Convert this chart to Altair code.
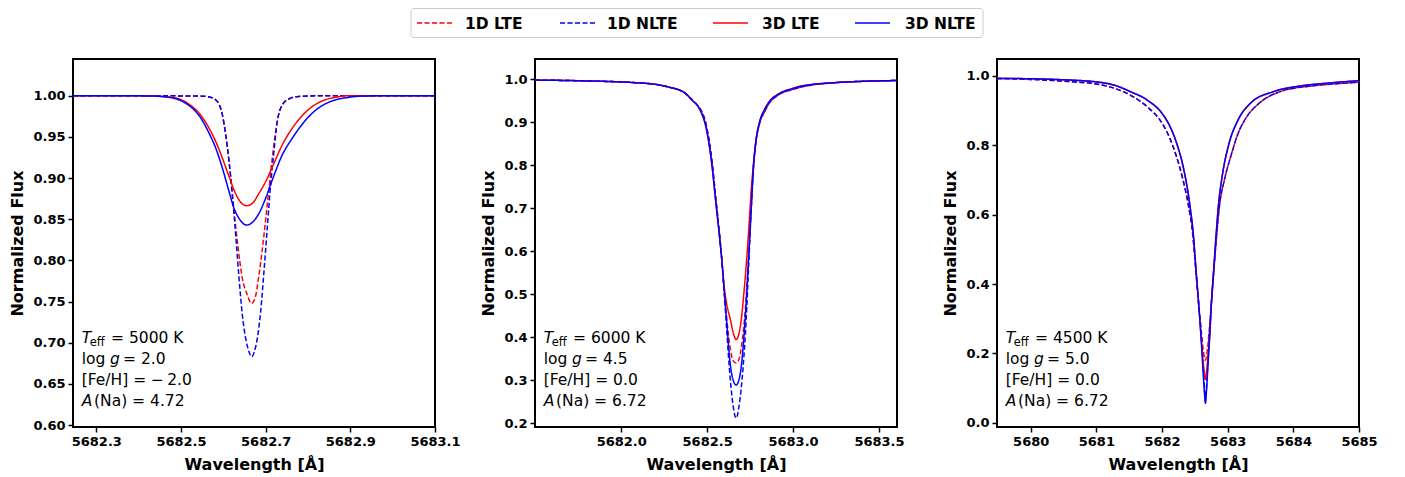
import altair as alt
import pandas as pd

SERIES = ["1D LTE", "1D NLTE", "3D LTE", "3D NLTE"]
COLORS = ["#ff0000", "#0000ff", "#ff0000", "#0000ff"]
DASHES = [[5, 2.5], [5, 2.5], [1, 0], [1, 0]]
IS_DASHED = [True, True, False, False]

# ---------------- Panel 1 (Teff 5000, logg 2.0, [Fe/H] -2.0) ----------------
p1_1d_lte_wl = [5682.245, 5682.40, 5682.550, 5682.567, 5682.5823, 5682.5901, 5682.5980, 5682.6058,
                5682.6137, 5682.6215, 5682.6333, 5682.6450, 5682.6568, 5682.6662, 5682.6748, 5682.6842,
                5682.6960, 5682.7062, 5682.7156, 5682.7274, 5682.7391, 5682.7548, 5682.7784, 5682.85, 5683.1]
p1_1d_lte_fx = [1.0, 1.0, 0.9995, 0.9985, 0.9948, 0.9895, 0.9765, 0.9522,
                0.9198, 0.8793, 0.8226, 0.7781, 0.7578, 0.7477, 0.7538, 0.7821,
                0.8307, 0.8793, 0.9239, 0.9684, 0.9887, 0.9960, 0.9992, 1.0, 1.0]
p1_1d_nlte_wl = [5682.245, 5682.40, 5682.550, 5682.567, 5682.5823, 5682.5901, 5682.5980, 5682.6058,
                 5682.6137, 5682.6215, 5682.6293, 5682.6372, 5682.6450, 5682.6529, 5682.6607, 5682.6670,
                 5682.6733, 5682.6803, 5682.6882, 5682.6960, 5682.7038, 5682.7117, 5682.7195, 5682.7274,
                 5682.7391, 5682.7548, 5682.7784, 5682.85, 5683.1]
p1_1d_nlte_fx = [1.0, 1.0, 0.9995, 0.9985, 0.9948, 0.9895, 0.9765, 0.9522,
                 0.9198, 0.8793, 0.8307, 0.7781, 0.7335, 0.7052, 0.6890, 0.6829,
                 0.6890, 0.7052, 0.7376, 0.7862, 0.8388, 0.8915, 0.9320, 0.9684,
                 0.9887, 0.9960, 0.9992, 1.0, 1.0]
p1_3d_lte_wl = [5682.245, 5682.35, 5682.4254, 5682.4725, 5682.4960, 5682.5195, 5682.5431, 5682.5666,
                5682.5823, 5682.5980, 5682.6137, 5682.6254, 5682.6372, 5682.6552, 5682.6685, 5682.6842,
                5682.6999, 5682.7195, 5682.7391, 5682.7627, 5682.7862, 5682.8097, 5682.8333, 5682.8646,
                5682.8960, 5682.95, 5683.1]
p1_3d_lte_fx = [1.0, 1.0, 0.9997, 0.9984, 0.9960, 0.9895, 0.9786, 0.9604,
                0.9441, 0.9239, 0.9016, 0.8854, 0.8733, 0.8664, 0.8692, 0.8814,
                0.8955, 0.9178, 0.9401, 0.9604, 0.9757, 0.9867, 0.9936, 0.9980,
                1.0, 1.0, 1.0]
p1_3d_nlte_wl = [5682.245, 5682.35, 5682.4254, 5682.4725, 5682.4960, 5682.5195, 5682.5431, 5682.5666,
                 5682.5823, 5682.5980, 5682.6137, 5682.6254, 5682.6372, 5682.6552, 5682.6685, 5682.6842,
                 5682.6999, 5682.7156, 5682.7391, 5682.7627, 5682.7862, 5682.8097, 5682.8333, 5682.8568,
                 5682.8960, 5682.9352, 5683.0, 5683.1]
p1_3d_nlte_fx = [1.0, 1.0, 0.9997, 0.9980, 0.9948, 0.9879, 0.9757, 0.9543,
                 0.9361, 0.9118, 0.8834, 0.8631, 0.8510, 0.8429, 0.8461, 0.8571,
                 0.8753, 0.8976, 0.9279, 0.9482, 0.9652, 0.9786, 0.9879, 0.9936,
                 0.9980, 0.9997, 1.0, 1.0]

# ---------------- Panel 2 (Teff 6000, logg 4.5, [Fe/H] 0.0) ----------------
p2_1d_lte_wl = [5681.498, 5681.8, 5682.08, 5682.20, 5682.273, 5682.37, 5682.415, 5682.445, 5682.471,
                5682.485, 5682.507, 5682.528, 5682.549, 5682.568, 5682.583, 5682.600, 5682.615, 5682.636,
                5682.652, 5682.669, 5682.686, 5682.702, 5682.722, 5682.740, 5682.755, 5682.770, 5682.782,
                5682.805, 5682.835, 5682.862, 5682.913, 5682.994, 5683.049, 5683.243, 5683.40, 5683.605]
p2_1d_lte_fx = [0.998, 0.996, 0.992, 0.988, 0.982, 0.968, 0.951, 0.939, 0.922,
                0.908, 0.868, 0.810, 0.728, 0.655, 0.592, 0.505, 0.440, 0.370,
                0.345, 0.340, 0.350, 0.386, 0.464, 0.580, 0.690, 0.797, 0.848,
                0.897, 0.925, 0.945, 0.963, 0.976, 0.982, 0.992, 0.995, 0.997]
p2_1d_nlte_wl = [5681.498, 5681.8, 5682.08, 5682.20, 5682.273, 5682.37, 5682.415, 5682.445, 5682.471,
                 5682.485, 5682.507, 5682.528, 5682.549, 5682.568, 5682.583, 5682.600, 5682.615, 5682.630,
                 5682.649, 5682.669, 5682.688, 5682.708, 5682.727, 5682.742, 5682.757, 5682.770, 5682.782,
                 5682.805, 5682.835, 5682.862, 5682.913, 5682.994, 5683.049, 5683.243, 5683.40, 5683.605]
p2_1d_nlte_fx = [0.998, 0.996, 0.992, 0.988, 0.982, 0.968, 0.951, 0.939, 0.922,
                 0.908, 0.868, 0.810, 0.728, 0.655, 0.592, 0.500, 0.410, 0.325,
                 0.247, 0.212, 0.247, 0.324, 0.440, 0.570, 0.700, 0.795, 0.848,
                 0.897, 0.925, 0.945, 0.963, 0.976, 0.982, 0.992, 0.995, 0.997]
p2_3d_lte_wl = [5681.498, 5681.8, 5682.08, 5682.20, 5682.273, 5682.37, 5682.415, 5682.445, 5682.471,
                5682.485, 5682.507, 5682.528, 5682.549, 5682.568, 5682.583, 5682.600, 5682.615, 5682.636,
                5682.652, 5682.669, 5682.686, 5682.700, 5682.712, 5682.725, 5682.742, 5682.758, 5682.770,
                5682.782, 5682.805, 5682.835, 5682.862, 5682.913, 5682.994, 5683.049, 5683.243, 5683.40,
                5683.605]
p2_3d_lte_fx = [0.998, 0.996, 0.992, 0.988, 0.982, 0.968, 0.950, 0.938, 0.918,
                0.902, 0.860, 0.800, 0.720, 0.650, 0.590, 0.515, 0.475, 0.440,
                0.410, 0.395, 0.410, 0.445, 0.495, 0.555, 0.650, 0.750, 0.805,
                0.852, 0.900, 0.930, 0.948, 0.965, 0.978, 0.984, 0.992, 0.995,
                0.997]
p2_3d_nlte_wl = [5681.498, 5681.8, 5682.08, 5682.20, 5682.273, 5682.37, 5682.415, 5682.445, 5682.471,
                 5682.485, 5682.507, 5682.528, 5682.549, 5682.568, 5682.583, 5682.600, 5682.615, 5682.630,
                 5682.645, 5682.669, 5682.693, 5682.710, 5682.727, 5682.742, 5682.755, 5682.770, 5682.782,
                 5682.805, 5682.835, 5682.862, 5682.913, 5682.994, 5683.049, 5683.243, 5683.40, 5683.605]
p2_3d_nlte_fx = [0.998, 0.996, 0.992, 0.988, 0.982, 0.968, 0.950, 0.938, 0.918,
                 0.902, 0.860, 0.800, 0.720, 0.650, 0.590, 0.505, 0.430, 0.355,
                 0.310, 0.289, 0.316, 0.380, 0.480, 0.590, 0.690, 0.800, 0.850,
                 0.900, 0.930, 0.948, 0.965, 0.978, 0.984, 0.992, 0.995, 0.997]

# ---------------- Panel 3 (Teff 4500, logg 5.0, [Fe/H] 0.0) ----------------
p3_1d_lte_wl = [5679.487, 5680.0, 5680.5, 5681.0, 5681.3, 5681.516, 5681.77, 5682.02, 5682.12, 5682.225,
                5682.32, 5682.40, 5682.47, 5682.515, 5682.557, 5682.600, 5682.635, 5682.661, 5682.685,
                5682.720, 5682.752, 5682.790, 5682.830, 5682.875, 5682.95, 5683.05, 5683.15, 5683.30,
                5683.46, 5683.80, 5684.31, 5684.70, 5685.0]
p3_1d_lte_fx = [0.993, 0.990, 0.985, 0.977, 0.963, 0.945, 0.912, 0.858, 0.820, 0.765,
                0.700, 0.630, 0.540, 0.440, 0.344, 0.260, 0.200, 0.180, 0.200,
                0.270, 0.344, 0.440, 0.536, 0.625, 0.700, 0.770, 0.830, 0.885,
                0.918, 0.955, 0.972, 0.978, 0.982]
p3_1d_nlte_wl = [5679.487, 5680.0, 5680.5, 5681.0, 5681.3, 5681.516, 5681.77, 5682.02, 5682.12, 5682.225,
                 5682.32, 5682.40, 5682.47, 5682.515, 5682.557, 5682.600, 5682.630, 5682.647, 5682.661,
                 5682.675, 5682.692, 5682.720, 5682.752, 5682.790, 5682.830, 5682.875, 5682.95, 5683.05,
                 5683.15, 5683.30, 5683.46, 5683.80, 5684.31, 5684.70, 5685.0]
p3_1d_nlte_fx = [0.993, 0.990, 0.985, 0.977, 0.963, 0.945, 0.912, 0.858, 0.820, 0.765,
                 0.700, 0.630, 0.540, 0.440, 0.344, 0.250, 0.150, 0.095, 0.065,
                 0.095, 0.150, 0.250, 0.344, 0.440, 0.536, 0.625, 0.700, 0.770,
                 0.830, 0.885, 0.918, 0.955, 0.972, 0.978, 0.982]
p3_3d_lte_wl = [5679.487, 5680.0, 5680.5, 5681.0, 5681.3, 5681.516, 5681.77, 5682.02, 5682.12, 5682.225,
                5682.326, 5682.42, 5682.48, 5682.518, 5682.558, 5682.594, 5682.630, 5682.661, 5682.690,
                5682.726, 5682.752, 5682.787, 5682.822, 5682.863, 5682.92, 5683.02, 5683.15, 5683.35,
                5683.70, 5684.10, 5684.50, 5685.0]
p3_3d_lte_fx = [0.993, 0.992, 0.989, 0.983, 0.972, 0.955, 0.931, 0.887, 0.855, 0.805,
                0.735, 0.633, 0.536, 0.440, 0.344, 0.250, 0.170, 0.125, 0.170,
                0.250, 0.344, 0.440, 0.536, 0.633, 0.715, 0.805, 0.870, 0.922,
                0.955, 0.971, 0.979, 0.9865]
p3_3d_nlte_wl = [5679.487, 5680.0, 5680.5, 5681.0, 5681.3, 5681.516, 5681.77, 5682.02, 5682.12, 5682.225,
                 5682.326, 5682.42, 5682.48, 5682.518, 5682.558, 5682.594, 5682.624, 5682.645, 5682.661,
                 5682.677, 5682.696, 5682.726, 5682.752, 5682.787, 5682.822, 5682.863, 5682.92, 5683.02,
                 5683.15, 5683.35, 5683.70, 5684.10, 5684.50, 5685.0]
p3_3d_nlte_fx = [0.993, 0.992, 0.989, 0.983, 0.972, 0.955, 0.931, 0.887, 0.855, 0.805,
                 0.735, 0.633, 0.536, 0.440, 0.344, 0.248, 0.152, 0.090, 0.056,
                 0.090, 0.152, 0.248, 0.344, 0.440, 0.536, 0.633, 0.715, 0.805,
                 0.870, 0.922, 0.955, 0.971, 0.979, 0.9865]

# ---------------- axes ----------------
P1_XDOM, P1_YDOM = [5682.245, 5683.1], [0.5976, 1.0446]
P2_XDOM, P2_YDOM = [5681.498, 5683.605], [0.1914, 1.047]
P3_XDOM, P3_YDOM = [5679.487, 5685.0], [-0.0124, 1.049]
P1_XTICKS = [5682.3, 5682.5, 5682.7, 5682.9, 5683.1]
P1_YTICKS = [0.60, 0.65, 0.70, 0.75, 0.80, 0.85, 0.90, 0.95, 1.00]
P2_XTICKS = [5682.0, 5682.5, 5683.0, 5683.5]
P2_YTICKS = [0.2, 0.3, 0.4, 0.5, 0.6, 0.7, 0.8, 0.9, 1.0]
P3_XTICKS = [5680, 5681, 5682, 5683, 5684, 5685]
P3_YTICKS = [0.0, 0.2, 0.4, 0.6, 0.8, 1.0]

TEFF = ["5000", "6000", "4500"]
LOGG = ["2.0", "4.5", "5.0"]
FEH = ["\u2212\u20092.0", "0.0", "0.0"]
ANA = ["4.72", "6.72", "6.72"]

W, H = 362, 368
FONT = "DejaVu Sans"
TS = 15.5
ONE = pd.DataFrame({"k": [0]})

# legend layout (pixels, relative to the left edge of the first plot area)
LEG_BOX = (338, 910)
LEG_H = 30
LEG_SYM_X = [344, 487, 640, 782]
LEG_SYM_LEN = 35
LEG_TXT_X = [392, 534, 689, 832]


def make_legend():
    layers = [
        alt.Chart(ONE).mark_rect(fill="white", stroke="#cccccc", strokeWidth=1, cornerRadius=3)
        .encode(x=alt.value(LEG_BOX[0]), x2=alt.value(LEG_BOX[1]),
                y=alt.value(0.5), y2=alt.value(LEG_H - 0.5))
    ]
    for s, c, d, sx, tx in zip(SERIES, COLORS, IS_DASHED, LEG_SYM_X, LEG_TXT_X):
        kw = {"strokeDash": [5, 2.5]} if d else {}
        layers.append(
            alt.Chart(ONE).mark_rule(color=c, strokeWidth=1.5, **kw)
            .encode(x=alt.value(sx), x2=alt.value(sx + LEG_SYM_LEN), y=alt.value(LEG_H / 2))
        )
        layers.append(
            alt.Chart(ONE).mark_text(text=s, align="left", baseline="middle", font=FONT,
                                     fontWeight="bold", fontSize=15.5, color="black")
            .encode(x=alt.value(tx), y=alt.value(LEG_H / 2 + 0.5))
        )
    return alt.layer(*layers).properties(
        width=1286, height=LEG_H, view=alt.ViewBackground(stroke="transparent", strokeWidth=0))


def panel(i, wls, fxs, xdom, ydom, xticks, yticks, xfmt, yfmt):
    rows = []
    for s, wl, fx in zip(SERIES, wls, fxs):
        for w, f in zip(wl, fx):
            rows.append({"series": s, "wl": w, "flux": f})
    df = pd.DataFrame(rows)
    lines = alt.Chart(df).mark_line(strokeWidth=1.5, clip=True, interpolate="monotone").encode(
        x=alt.X("wl:Q", scale=alt.Scale(domain=xdom, nice=False, zero=False),
                axis=alt.Axis(values=xticks, format=xfmt, title="Wavelength [Å]",
                              labelFlush=False, labelOverlap=False)),
        y=alt.Y("flux:Q", scale=alt.Scale(domain=ydom, nice=False, zero=False),
                axis=alt.Axis(values=yticks, format=yfmt, title="Normalized Flux",
                              labelFlush=False, labelOverlap=False)),
        color=alt.Color("series:N", scale=alt.Scale(domain=SERIES, range=COLORS), legend=None),
        strokeDash=alt.StrokeDash("series:N", scale=alt.Scale(domain=SERIES, range=DASHES),
                                  legend=None),
    )
    pieces = [
        ("T", 8.7, 283.5, "italic", TS),
        ("eff", 16.7, 286.5, "normal", 11.5),
        ("= " + TEFF[i] + " K", 38, 283.5, "normal", TS),
        ("log", 8.7, 304.5, "normal", TS),
        ("g", 37, 304.5, "italic", TS),
        ("= " + LOGG[i], 50, 304.5, "normal", TS),
        ("[Fe/H] = " + FEH[i], 8.7, 326, "normal", TS),
        ("A", 8.7, 347, "italic", TS),
        ("(Na) = " + ANA[i], 21, 347, "normal", TS),
    ]
    layers = [lines]
    for txt, px, py, style, size in pieces:
        layers.append(
            alt.Chart(ONE).mark_text(text=txt, align="left", baseline="alphabetic", font=FONT,
                                     fontSize=size, fontStyle=style, color="black")
            .encode(x=alt.value(px), y=alt.value(py))
        )
    return alt.layer(*layers).properties(width=W, height=H)


p1 = panel(0, [p1_1d_lte_wl, p1_1d_nlte_wl, p1_3d_lte_wl, p1_3d_nlte_wl],
           [p1_1d_lte_fx, p1_1d_nlte_fx, p1_3d_lte_fx, p1_3d_nlte_fx],
           P1_XDOM, P1_YDOM, P1_XTICKS, P1_YTICKS, ".1f", ".2f")
p2 = panel(1, [p2_1d_lte_wl, p2_1d_nlte_wl, p2_3d_lte_wl, p2_3d_nlte_wl],
           [p2_1d_lte_fx, p2_1d_nlte_fx, p2_3d_lte_fx, p2_3d_nlte_fx],
           P2_XDOM, P2_YDOM, P2_XTICKS, P2_YTICKS, ".1f", ".1f")
p3 = panel(2, [p3_1d_lte_wl, p3_1d_nlte_wl, p3_3d_lte_wl, p3_3d_nlte_wl],
           [p3_1d_lte_fx, p3_1d_nlte_fx, p3_3d_lte_fx, p3_3d_nlte_fx],
           P3_XDOM, P3_YDOM, P3_XTICKS, P3_YTICKS, "d", ".1f")

panels = alt.hconcat(p1, p2, p3, spacing=100, bounds="flush")

chart = (
    alt.vconcat(make_legend(), panels, spacing=21, bounds="flush")
    .properties(padding=0)
    .configure(font=FONT)
    .configure_view(stroke="black", strokeWidth=2)
    .configure_axis(
        labelFont=FONT, labelFontWeight="bold", labelFontSize=13, labelColor="black",
        titleFont=FONT, titleFontWeight="bold", titleFontSize=16, titleColor="black",
        tickColor="black", tickWidth=1.5, tickSize=5, domain=False, grid=False, labelPadding=3,
    )
    .configure_axisX(titlePadding=8)
    .configure_axisY(titlePadding=7)
)

chart.save("out.html", embed_options={"renderer": "svg", "actions": False})
